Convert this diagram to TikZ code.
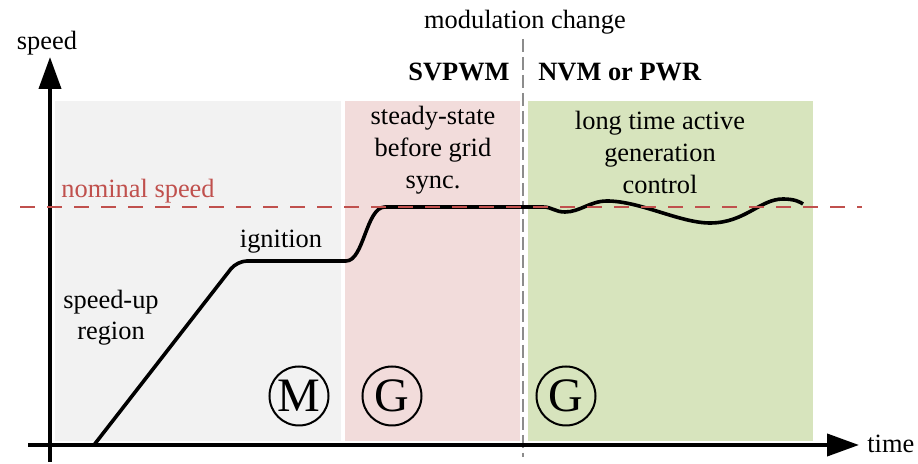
\documentclass[tikz,border=0pt]{standalone}
\usepackage{fontspec}
\setmainfont{Liberation Serif}
\usetikzlibrary{arrows.meta,positioning}
\definecolor{motorgray}{HTML}{F2F2F2}
\definecolor{syncpink}{HTML}{F2DCDB}
\definecolor{gengreen}{HTML}{D7E4BD}
\definecolor{nomred}{HTML}{C0504D}
\definecolor{modgray}{HTML}{8C8C8C}
\tikzset{x=0.5pt, y=-0.5pt,
  lbl/.style={inner sep=0pt, align=center, font=\fontsize{13.2}{15.5}\selectfont},
  mach/.style={circle, draw, line width=1pt, minimum size=29.5pt, inner sep=0pt, font=\fontsize{24}{24}\selectfont},
  axis/.style={line width=2pt, -{Triangle[length=16pt,width=11pt]}},
  nominal/.style={nomred, line width=1.4pt, dash pattern=on 7.5pt off 6pt},
  change/.style={modgray, line width=1.1pt, dash pattern=on 6.5pt off 2.5pt}}

\begin{document}
\begin{tikzpicture}
    \useasboundingbox (0,0) rectangle (918,464);
    \fill[motorgray] (55,101) rectangle (341,441);
    \fill[syncpink] (345,101) rectangle (520,441);
    \fill[gengreen] (528,101) rectangle (813,441);
    \coordinate (Y0) at (50,462); \coordinate (Y1) at (50,57);
    \coordinate (X0) at (28,445); \coordinate (X1) at (859,445);
    \coordinate (N0) at (20,207); \coordinate (N1) at (862,207);
    \coordinate (C0) at (523,39); \coordinate (C1) at (523,457);
    \draw[change] (C0) -- (C1);
    \draw[axis] (Y0) -- (Y1);
    \draw[axis] (X0) -- (X1);
    \node[lbl] (speed) at (47,43) {speed};
    \node[lbl, anchor=west] (time) at (867,444) {time};
    \node[lbl] (mod) at (525,22) {modulation change};
    \node[lbl, anchor=east, font=\fontsize{13.2}{15.5}\selectfont\bfseries] (svpwm) at (510,72) {SVPWM};
    \node[lbl, anchor=west, font=\fontsize{13.2}{15.5}\selectfont\bfseries] (nvm) at (538,72) {NVM or PWR};
    \node[lbl, anchor=west, text=nomred] (nom) at (61,191) {nominal speed};
    \node[lbl, font=\fontsize{13.2}{16}\selectfont] (steady) at (433,150) {steady-state\\before grid\\sync.};
    \node[lbl, font=\fontsize{13.2}{16}\selectfont] (active) at (660,152) {long time active\\generation\\control};
    \node[lbl] (ign) at (281,242) {ignition};
    \node[lbl] (spdup) at (111,318) {speed-up\\region};
    \node[mach] (M1) at (299,396) {M};
    \node[mach] (G1) at (392,396) {G};
    \node[mach] (G2) at (566,396) {G};
    \draw[line width=1.8pt, line join=round, rounded corners=5pt]
        (94,445) -- (237,261) -- (300,261) [sharp corners] -- (346,261)
        .. controls (364,261) and (366,207) .. (385,207) -- (543,207)
        .. controls (552,207) and (555,212) .. (565,212)
        .. controls (580,212) and (590,201) .. (607,201)
        .. controls (640,201) and (680,223) .. (710,223)
        .. controls (745,223) and (760,199) .. (783,199)
        .. controls (795,199) and (800,202) .. (803,204);
    \draw[nominal] (N0) -- (N1);
\end{tikzpicture}
\end{document}
